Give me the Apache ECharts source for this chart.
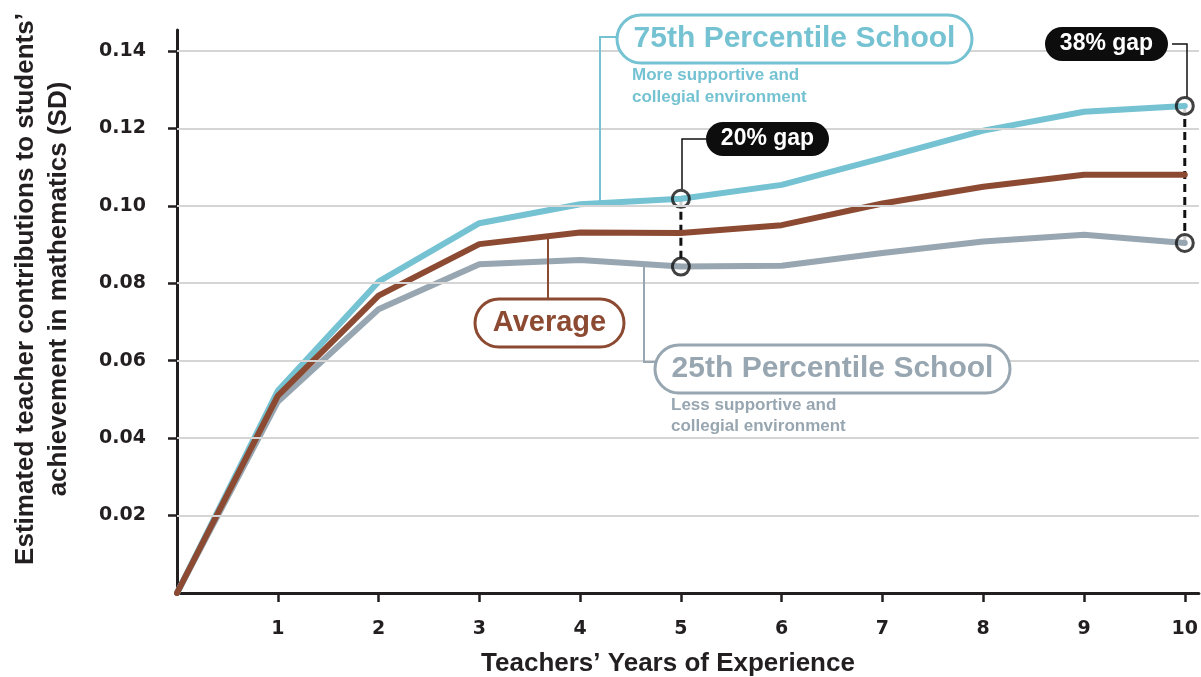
<!DOCTYPE html>
<html>
<head>
<meta charset="utf-8">
<script src="https://cdn.jsdelivr.net/npm/echarts@6/dist/echarts.min.js"></script>
<style>html,body{margin:0;padding:0;background:#fff}#c{width:1201px;height:677px}</style>
</head>
<body>
<div id="c"></div>
<script>
// ---- data ----
var years = [0, 1, 2, 3, 4, 5, 6, 7, 8, 9, 10];
var p75 = [0, 0.0522, 0.0804, 0.0955, 0.1004, 0.1018, 0.1054, 0.1123, 0.1194, 0.1243, 0.1258];
var avg = [0, 0.0509, 0.0768, 0.0901, 0.0931, 0.0930, 0.0950, 0.1006, 0.1049, 0.1080, 0.1080];
var p25 = [0, 0.0494, 0.0733, 0.0849, 0.0860, 0.0843, 0.0845, 0.0878, 0.0908, 0.0925, 0.0904];
var xTicks = [1, 2, 3, 4, 5, 6, 7, 8, 9, 10];
var yTicks = [0.02, 0.04, 0.06, 0.08, 0.10, 0.12, 0.14];
var gapYears = [5, 10];
var gapLabels = ['20% gap', '38% gap'];

var TEAL = '#74c2d2', BROWN = '#8c4a32', GRAY = '#97a6b0', INK = '#231f20';
var FONT = '"Liberation Sans", Arial, sans-serif';

function pts(arr) { return years.map(function (x, i) { return [x, arr[i]]; }); }

var chart = echarts.init(document.getElementById('c'), null, {renderer: 'canvas'});

var series = [
  { type: 'line', data: [], silent: true, z: 1,
    markLine: { silent: true, symbol: 'none', label: {show: false},
      lineStyle: {color: '#d5d5d5', width: 2, type: 'solid'},
      data: yTicks.map(function (v) { return {yAxis: v}; }) } }
];
gapYears.forEach(function (g) {
  var hi = [g, p75[years.indexOf(g)]], lo = [g, p25[years.indexOf(g)]];
  series.push({ type: 'line', data: [hi, lo], symbol: 'none', z: 2, silent: true,
    lineStyle: {color: '#111', width: 3, type: [8, 5]} });
  series.push({ type: 'scatter', data: [hi, lo], symbol: 'circle', symbolSize: 17, z: 2, silent: true,
    itemStyle: {color: '#fff'} });
});
[[p25, GRAY], [p75, TEAL], [avg, BROWN]].forEach(function (s) {
  series.push({ type: 'line', data: pts(s[0]), symbol: 'none', z: 3, silent: true,
    lineStyle: {color: s[1], width: 6, cap: 'round'} });
});
gapYears.forEach(function (g) {
  var hi = [g, p75[years.indexOf(g)]], lo = [g, p25[years.indexOf(g)]];
  series.push({ type: 'scatter', data: [hi, lo], symbol: 'circle', symbolSize: 17, z: 4, silent: true,
    itemStyle: {color: 'rgba(0,0,0,0)', borderColor: '#111', borderWidth: 3} });
});

function pill(x, y, w, h, stroke, fill, text, color, size) {
  return [
    { type: 'rect', z: 100, shape: {x: x, y: y, width: w, height: h, r: h / 2},
      style: {fill: fill, stroke: stroke, lineWidth: stroke ? 3 : 0} },
    { type: 'text', z: 101, x: x + w / 2, y: y + h / 2,
      style: {text: text, fill: color, font: 'bold ' + size + 'px ' + FONT, textAlign: 'center', textVerticalAlign: 'middle'} }
  ];
}
function txt(x, y, t, color, size, weight, align) {
  return { type: 'text', z: 101, x: x, y: y,
    style: {text: t, fill: color, font: (weight || 'bold') + ' ' + size + 'px ' + FONT, textAlign: align || 'left', textVerticalAlign: 'middle'} };
}
function poly(points, color, w) {
  return { type: 'polyline', z: 99, shape: {points: points}, style: {stroke: color, lineWidth: w, fill: null} };
}

var graphics = []
  .concat([poly([[600, 204], [600, 37], [617, 37]], TEAL, 2)])
  .concat(pill(617, 15, 355, 48, TEAL, '#fff', '75th Percentile School', TEAL, 30))
  .concat([txt(632, 75, 'More supportive and', TEAL, 17), txt(632, 97, 'collegial environment', TEAL, 17)])
  .concat([poly([[548, 237], [548, 299]], BROWN, 2)])
  .concat(pill(475, 299, 149, 48, BROWN, '#fff', 'Average', BROWN, 29))
  .concat([poly([[644, 264], [644, 362], [656, 362]], GRAY, 2)])
  .concat(pill(655, 345, 355, 48, GRAY, '#fff', '25th Percentile School', GRAY, 30))
  .concat([txt(671, 405, 'Less supportive and', GRAY, 17), txt(671, 426, 'collegial environment', GRAY, 17)])
  .concat([poly([[706, 139], [682, 139], [682, 189]], '#111', 1.5)])
  .concat(pill(706, 122, 123, 34, null, '#0d0d0d', gapLabels[0], '#fff', 23))
  .concat([poly([[1172, 44], [1187, 44], [1187, 97]], '#111', 1.5)])
  .concat(pill(1045, 27, 123, 34, null, '#0d0d0d', gapLabels[1], '#fff', 23))
  .concat([
    { type: 'text', z: 101, x: 42, y: 289, rotation: Math.PI / 2,
      style: {text: 'Estimated teacher contributions to students\u2019\nachievement in mathematics (SD)', fill: INK,
        font: 'bold 26px ' + FONT, textAlign: 'center', textVerticalAlign: 'middle', lineHeight: 33} },
    txt(668, 664, 'Teachers\u2019 Years of Experience', INK, 26, 'bold', 'center')
  ]);

chart.setOption({
  animation: false,
  backgroundColor: '#fff',
  grid: {left: 177, right: 0, top: 30, bottom: 84},
  xAxis: {
    type: 'value', min: 0, max: 10.14,
    axisLine: {show: true, lineStyle: {color: INK, width: 3}},
    axisTick: {show: true, customValues: xTicks, length: 9, lineStyle: {color: INK, width: 2.5}},
    axisLabel: {customValues: xTicks, color: INK, fontFamily: 'DejaVu Sans', fontWeight: 'bold', fontSize: 19, margin: 27,
      formatter: function (v) { return String(Math.round(v)); }},
    splitLine: {show: false}
  },
  yAxis: {
    type: 'value', min: 0, max: 0.1454,
    axisLine: {show: true, lineStyle: {color: INK, width: 3}},
    axisTick: {show: true, customValues: yTicks, length: 9, lineStyle: {color: INK, width: 2.5}},
    axisLabel: {customValues: yTicks, color: INK, fontFamily: 'DejaVu Sans', fontWeight: 'bold', fontSize: 19, margin: 31,
      formatter: function (v) { return v.toFixed(2); }},
    splitLine: {show: false}
  },
  series: series,
  graphic: graphics
});
</script>
</body>
</html>
